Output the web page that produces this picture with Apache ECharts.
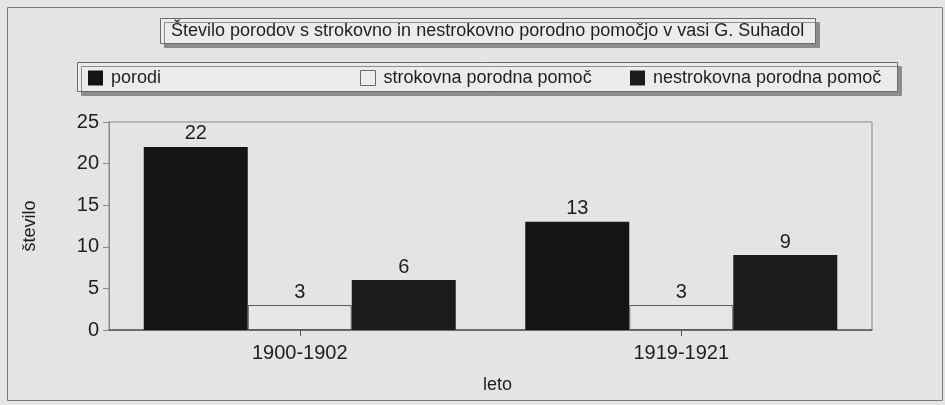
<!DOCTYPE html>
<html>
<head>
<meta charset="utf-8">
<script src="https://cdn.jsdelivr.net/npm/echarts@6/dist/echarts.min.js"></script>
<style>
  html, body { margin: 0; padding: 0; background: #e4e4e4; }
  #chart { width: 945px; height: 405px; }
</style>
</head>
<body>
<div id="chart"></div>
<script>
// Births in the village of G. Suhadol, by period and kind of birth assistance
const categories = ['1900-1902', '1919-1921'];
const porodi = [22, 13];
const strokovna = [3, 3];
const nestrokovna = [6, 9];
const yTicks = { min: 0, max: 25, interval: 5 };

const FONT = '"Liberation Sans", Arial, Helvetica, sans-serif';
const INK = '#1e1e1e';

const chart = echarts.init(document.getElementById('chart'), null, { renderer: 'canvas' });

const barLabel = {
  show: true,
  position: 'top',
  distance: 3,
  fontSize: 20,
  color: INK,
  fontFamily: FONT
};

function legendFor(name, left, itemStyle) {
  return {
    data: [{ name: name, itemStyle: itemStyle }],
    left: left,
    top: 69,
    padding: 0,
    itemWidth: 15,
    itemHeight: 15,
    icon: 'rect',
    selectedMode: false,
    textStyle: { fontSize: 18, color: INK, fontFamily: FONT, padding: [0, 0, 0, 3] }
  };
}

chart.setOption({
  animation: false,
  backgroundColor: '#e4e4e4',
  textStyle: { fontFamily: FONT },
  title: {
    text: 'Število porodov s strokovno in nestrokovno porodno pomočjo v vasi G. Suhadol',
    left: 160,
    top: 18,
    padding: [4, 11, 4, 11],
    backgroundColor: '#ececec',
    borderColor: '#6a6a6a',
    borderWidth: 1,
    shadowColor: '#8c8c8c',
    shadowBlur: 0,
    shadowOffsetX: 4,
    shadowOffsetY: 4,
    textStyle: { fontSize: 18, fontWeight: 'normal', color: INK, fontFamily: FONT }
  },
  graphic: [
    {
      // outer frame of the figure
      type: 'rect',
      shape: { x: 7.5, y: 7.5, width: 935, height: 393 },
      style: { fill: 'none', stroke: '#7a7a7a', lineWidth: 1 },
      silent: true,
      z: 0
    },
    {
      // legend panel
      type: 'rect',
      shape: { x: 77.5, y: 62.5, width: 820, height: 29 },
      style: {
        fill: '#ececec', stroke: '#6a6a6a', lineWidth: 1,
        shadowColor: '#8c8c8c', shadowBlur: 0, shadowOffsetX: 4, shadowOffsetY: 4
      },
      silent: true,
      z: 1
    }
  ],
  legend: [
    legendFor('porodi', 88, { color: '#141414' }),
    legendFor('strokovna porodna pomoč', 360, { color: '#eeeeee', borderColor: '#6a6a6a', borderWidth: 1 }),
    legendFor('nestrokovna porodna pomoč', 630, { color: '#1c1c1c' })
  ],
  grid: {
    left: 109,
    right: 73,
    top: 122,
    bottom: 75,
    show: true,
    borderColor: '#8a8a8a',
    borderWidth: 1,
    backgroundColor: 'transparent'
  },
  xAxis: {
    type: 'category',
    data: categories,
    name: 'leto',
    nameLocation: 'middle',
    nameGap: 46,
    nameTextStyle: { fontSize: 18, color: INK, fontFamily: FONT, padding: [0, 0, 0, 14] },
    axisLine: { lineStyle: { color: '#555555', width: 1.5 } },
    axisTick: { show: true, alignWithLabel: true, length: 6, lineStyle: { color: '#555555' } },
    axisLabel: { fontSize: 20, color: INK, fontFamily: FONT, margin: 13 },
    splitLine: { show: false }
  },
  yAxis: {
    type: 'value',
    min: yTicks.min,
    max: yTicks.max,
    interval: yTicks.interval,
    name: 'število',
    nameLocation: 'middle',
    nameGap: 70,
    nameRotate: 90,
    nameTextStyle: { fontSize: 18, color: INK, fontFamily: FONT },
    axisLine: { show: true, lineStyle: { color: '#8a8a8a' } },
    axisTick: { show: true, length: 6, lineStyle: { color: '#8a8a8a' } },
    axisLabel: { fontSize: 20, color: INK, fontFamily: FONT, margin: 10 },
    splitLine: { show: false }
  },
  series: [
    {
      name: 'porodi',
      type: 'bar',
      data: porodi,
      barWidth: 104,
      barGap: '0%',
      itemStyle: { color: '#141414' },
      label: barLabel
    },
    {
      name: 'strokovna porodna pomoč',
      type: 'bar',
      data: strokovna,
      barWidth: 104,
      barGap: '0%',
      itemStyle: { color: '#e6e6e6', borderColor: '#5a5a5a', borderWidth: 1 },
      label: barLabel
    },
    {
      name: 'nestrokovna porodna pomoč',
      type: 'bar',
      data: nestrokovna,
      barWidth: 104,
      barGap: '0%',
      itemStyle: { color: '#1c1c1c' },
      label: barLabel
    }
  ]
});
</script>
</body>
</html>
